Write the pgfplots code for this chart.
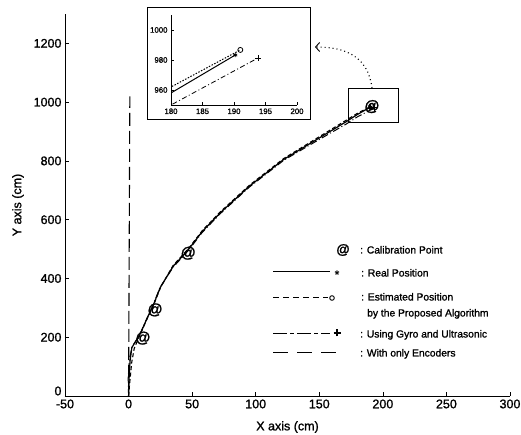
\documentclass[border=0pt]{standalone}
\usepackage{fontspec}
\setmainfont{Liberation Sans}[FakeBold=1.2]
\usepackage{pgfplots}
\pgfplotsset{compat=1.18}
\usetikzlibrary{arrows.meta}

% trajectories (cm)
\pgfplotstableread{
x y
0 0
0.4 60
1.2 120
2.6 165
9 210
14 259
19.5 310
25 370
35 441
47 498
58 560
72 623
95 714
122 805
148 873
171 933
180 958
190.2 983.3
}\realpos
\pgfplotstableread{
x y
0 0
1 50
2.5 115
4.5 163
9.5 213
14.5 262
20 313
25.5 373
35 444
47 501
58 563
72 626
95 717
122 808
148 877
171 938
180 962
191 986.7
}\estpos
\pgfplotstableread{
x y
0 0
-0.3 60
0.6 125
2.8 168
8.5 206
13.5 255
19 306
24.5 367
35 438
47 495
58 557
72 620
95 711
122 802
148 868
171 925
180 950
193.8 981.3
}\gyropos

\begin{document}
\begin{tikzpicture}
\useasboundingbox (-65pt,-39pt) rectangle (456pt,396pt);
\begin{axis}[
    width=445pt, height=382pt, scale only axis,
    xmin=-50, xmax=300, ymin=0, ymax=1300,
    axis x line*=bottom, axis y line*=left,
    axis line style={-, black, line width=0.9pt},
    xtick={-50,0,...,300}, ytick={200,400,...,1200},
    extra y ticks={0},
    extra y tick style={yticklabel style={yshift=5pt}},
    tick align=inside, major tick length=4pt,
    tick style={black, line width=0.7pt},
    /pgf/number format/assume math mode=true,
    /pgf/number format/1000 sep={},
    tick label style={font=\fontsize{12.5}{13}\selectfont},
    xlabel={X axis (cm)}, ylabel={Y axis (cm)},
    label style={font=\fontsize{12.5}{13}\selectfont},
    xlabel style={yshift=-6pt}, ylabel style={yshift=3pt},
]
\addplot[only marks, mark=text, text mark={\fontsize{15}{15}\selectfont\bfseries @}]
    coordinates {(11.3,197) (20.8,293) (46.9,486) (191.4,985)};
\addplot[black, line width=1.2pt] table {\realpos};
\addplot[black, line width=1.1pt, dash pattern=on 4pt off 2.5pt] table {\estpos};
\addplot[black, line width=1pt, dash pattern=on 7pt off 2.5pt on 1pt off 2.5pt] table {\gyropos};
\addplot[black, line width=1.1pt, dash pattern=on 13pt off 5pt] coordinates {(0,0) (1,1020)};
% end markers
\addplot[only marks, mark=asterisk, mark size=2.5pt, line width=0.9pt] coordinates {(190.2,983.3)};
\addplot[only marks, mark=o, mark size=2.5pt, line width=0.9pt] coordinates {(191,986.7)};
\addplot[only marks, mark=+, mark size=3.5pt, line width=1pt] coordinates {(193.8,981.3)};
% zoom box
\draw[line width=0.9pt] (axis cs:172.6,931) rectangle (axis cs:211.9,1046);
\end{axis}

% legend (positions in pt from the plot's lower left corner)
\begin{scope}[every node/.style={font=\fontsize{10.3}{12}\selectfont, inner sep=0pt}]
\node[font=\fontsize{13.5}{13}\selectfont\bfseries] at (278pt,146pt) {@};
\node[anchor=base west] at (295pt,142.5pt) {: Calibration Point};
\draw[line width=0.8pt] (208pt,124.5pt) -- (265pt,124.5pt);
\node[font=\fontsize{12}{12}\selectfont] at (272pt,121.5pt) {*};
\node[anchor=base west] at (296pt,119.5pt) {: Real Position};
\draw[line width=1pt, dash pattern=on 6pt off 4pt] (208pt,98pt) -- (263pt,98pt);
\draw[line width=0.9pt] (267pt,98pt) circle (2.3pt);
\node[anchor=base west] at (296pt,95.5pt) {: Estimated Position};
\node[anchor=base west] at (302pt,79.5pt) {by the Proposed Algorithm};
\draw[line width=0.8pt, dash pattern=on 14pt off 3pt on 4pt off 3pt] (208pt,63pt) -- (265pt,63pt);
\draw[line width=1.1pt] (268.5pt,63pt) -- (275.5pt,63pt) (272pt,59.5pt) -- (272pt,66.5pt);
\node[anchor=base west] at (295pt,58.5pt) {: Using Gyro and Ultrasonic};
\draw[line width=1pt, dash pattern=on 15pt off 9pt] (208pt,43pt) -- (272pt,43pt);
\node[anchor=base west] at (295pt,39.5pt) {: With only Encoders};
\end{scope}

% inset
\begin{axis}[
    at={(106pt,291pt)}, anchor=south west,
    width=126pt, height=90pt, scale only axis,
    xmin=180, xmax=200, ymin=950, ymax=1010,
    axis x line*=bottom, axis y line*=left,
    axis line style={-, black, line width=0.8pt},
    xtick={180,185,...,200}, ytick={960,980,1000},
    tick align=inside, major tick length=2.5pt,
    tick style={black, line width=0.5pt},
    /pgf/number format/assume math mode=true,
    /pgf/number format/1000 sep={},
    tick label style={font=\fontsize{7.8}{8}\selectfont},
]
\addplot[black, line width=1pt] table {\realpos};
\addplot[black, line width=1pt, dash pattern=on 1.5pt off 1.5pt] table {\estpos};
\addplot[black, line width=0.8pt, dash pattern=on 5pt off 2.5pt on 1pt off 2.5pt] table {\gyropos};
\addplot[only marks, mark=asterisk, mark size=2.2pt, line width=0.8pt] coordinates {(190.2,983.3)};
\addplot[only marks, mark=o, mark size=2.5pt, line width=0.8pt] coordinates {(191,986.7)};
\addplot[only marks, mark=+, mark size=3pt, line width=0.9pt] coordinates {(193.8,981.3)};
\end{axis}
\draw[line width=1pt] (82pt,276pt) rectangle (245pt,388pt);
\draw[line width=1.1pt, dash pattern=on 1pt off 3pt, -{Straight Barb[length=4pt,width=9pt,line width=0.9pt]}]
    (307pt,308pt) .. controls (303pt,340pt) and (280pt,349pt) .. (250pt,349pt);
\end{tikzpicture}
\end{document}
